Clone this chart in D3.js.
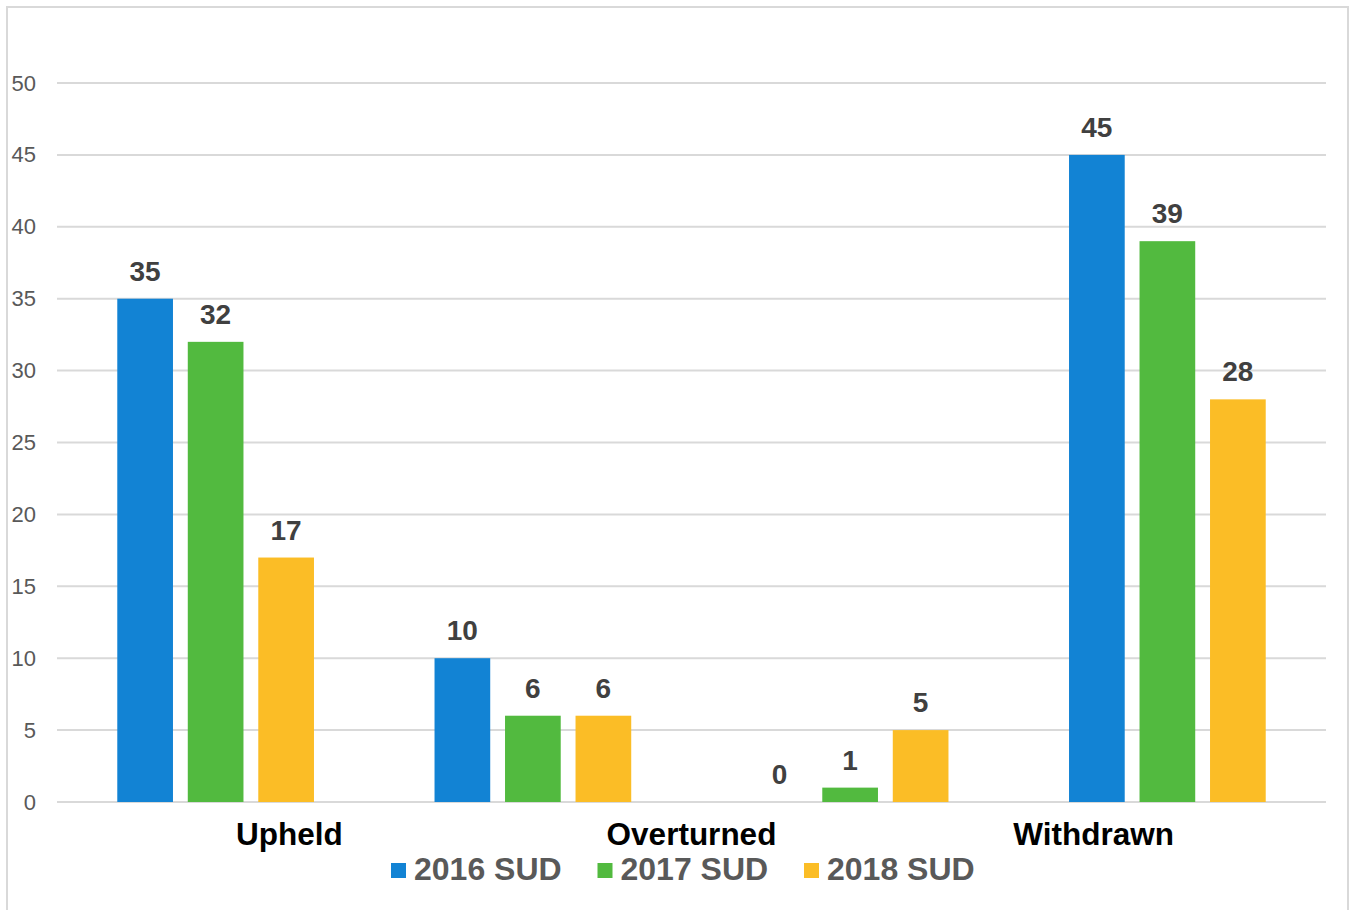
<!DOCTYPE html>
<html>
<head>
<meta charset="utf-8">
<script src="https://cdn.jsdelivr.net/npm/d3@7"></script>
<style>
  body { margin: 0; background: #fff; }
  text { font-family: "Liberation Sans", Arial, sans-serif; }
</style>
</head>
<body>
<div id="chart"></div>
<script>
//chart data
var groups = ["g1", "g2", "g3", "g4"];
var axisLabels = ["Upheld", "Overturned", "Withdrawn"];
var seriesNames = ["2016 SUD", "2017 SUD", "2018 SUD"];
var values2016 = [35, 10, 0, 45];
var values2017 = [32, 6, 1, 39];
var values2018 = [17, 6, 5, 28];
var yTicks = [0, 5, 10, 15, 20, 25, 30, 35, 40, 45, 50];

var colors = ["#1283d4", "#52ba3f", "#fbbd26"];

//svg dimensions
var svgWidth = 1351;
var svgHeight = 910;

var margin = { top: 83, right: 25, bottom: 108, left: 57 };
var width = svgWidth - margin.left - margin.right;
var height = svgHeight - margin.top - margin.bottom;

var svg = d3.select("#chart")
  .append("svg")
  .attr("width", svgWidth)
  .attr("height", svgHeight);

//outer border
svg.append("rect")
  .attr("x", 7)
  .attr("y", 7)
  .attr("width", 1341)
  .attr("height", svgHeight + 10)
  .attr("fill", "none")
  .attr("stroke", "#d9d9d9")
  .attr("stroke-width", 2);

var chartGroup = svg.append("g")
  .attr("transform", `translate(${margin.left}, ${margin.top})`);

//scales
var x0 = d3.scaleBand()
  .domain(groups)
  .range([0, width])
  .paddingInner(0.38)
  .paddingOuter(0.19);

var x1 = d3.scaleBand()
  .domain(seriesNames)
  .range([0, x0.bandwidth()])
  .paddingInner(0.21);

var y = d3.scaleLinear()
  .domain([0, 50])
  .range([height, 0]);

//category labels sit on their own point scale
var xLabels = d3.scalePoint()
  .domain(axisLabels)
  .range([0, width])
  .padding(0.578);

//gridlines
chartGroup.selectAll(".grid")
  .data(yTicks)
  .enter()
  .append("line")
  .attr("x1", 0)
  .attr("x2", width)
  .attr("y1", d => y(d))
  .attr("y2", d => y(d))
  .attr("stroke", "#d9d9d9")
  .attr("stroke-width", 2);

//y axis tick labels
var leftAxis = d3.axisLeft(y).tickValues(yTicks).tickSize(0).tickPadding(21);
chartGroup.append("g")
  .call(leftAxis)
  .call(g => g.select(".domain").remove())
  .selectAll("text")
  .attr("fill", "#595959")
  .attr("font-size", "22px")
  .attr("font-family", "Liberation Sans, Arial, sans-serif");

//build table of series
var table = seriesNames.map(function(name, i) {
  var vals = [values2016, values2017, values2018][i];
  return groups.map(function(g, j) {
    return { series: name, group: g, value: vals[j], color: colors[i] };
  });
});
var flat = [].concat.apply([], table);

//bars
chartGroup.selectAll(".bar")
  .data(flat)
  .enter()
  .append("rect")
  .attr("x", d => x0(d.group) + x1(d.series))
  .attr("y", d => y(d.value))
  .attr("width", x1.bandwidth())
  .attr("height", d => height - y(d.value))
  .attr("fill", d => d.color);

//data labels
chartGroup.selectAll(".valueText")
  .data(flat)
  .enter()
  .append("text")
  .attr("x", d => x0(d.group) + x1(d.series) + x1.bandwidth() / 2)
  .attr("y", d => y(d.value) - 18)
  .attr("text-anchor", "middle")
  .attr("font-size", "28px")
  .attr("font-weight", "bold")
  .attr("fill", "#404040")
  .text(d => d.value);

//category labels
chartGroup.selectAll(".catText")
  .data(axisLabels)
  .enter()
  .append("text")
  .attr("x", d => xLabels(d))
  .attr("y", height + 43)
  .attr("text-anchor", "middle")
  .attr("font-size", "31.5px")
  .attr("font-weight", "bold")
  .attr("fill", "#000")
  .text(d => d);

//legend
var legend = svg.append("g")
  .attr("transform", "translate(391, 863)");

var item = legend.selectAll(".legendItem")
  .data(seriesNames)
  .enter()
  .append("g")
  .attr("transform", (d, i) => `translate(${i * 206.5}, 0)`);

item.append("rect")
  .attr("width", 15)
  .attr("height", 15)
  .attr("fill", (d, i) => colors[i]);

item.append("text")
  .attr("x", 23)
  .attr("y", 17)
  .attr("font-size", "32px")
  .attr("font-weight", "bold")
  .attr("fill", "#595959")
  .text(d => d);
</script>
</body>
</html>
